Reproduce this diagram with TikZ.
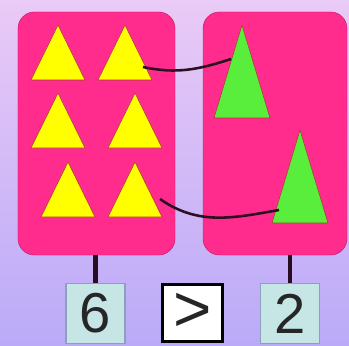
\documentclass[tikz,border=0pt]{standalone}
\usepackage{fontspec}
\setmainfont{Liberation Sans}
\usetikzlibrary{positioning}

\definecolor{bgtop}{RGB}{234,202,246}
\definecolor{bgbot}{RGB}{186,170,248}
\definecolor{panelfill}{RGB}{255,44,142}
\definecolor{paneldraw}{RGB}{196,24,104}
\definecolor{triyellow}{RGB}{255,255,0}
\definecolor{trigreen}{RGB}{90,238,60}
\definecolor{triedge}{RGB}{170,60,50}
\definecolor{boxfill}{RGB}{198,230,230}
\definecolor{boxdraw}{RGB}{140,160,185}
\definecolor{linkcol}{RGB}{45,15,35}

\begin{document}
\begin{tikzpicture}[
      x=0.03cm, y=-0.03cm,
      panel/.style={draw=paneldraw, fill=panelfill, rounded corners=14pt,
        minimum height=7.29cm, inner sep=0pt},
      ytri/.style={draw=triedge, fill=triyellow, line width=0.5pt, line join=round},
      gtri/.style={draw=triedge, fill=trigreen, line width=0.5pt, line join=round},
      numbox/.style={draw=boxdraw, fill=boxfill, line width=0.9pt, anchor=north,
        minimum width=1.77cm, minimum height=1.8cm, inner sep=0pt,
        text=black!85, font=\fontsize{48}{48}\selectfont},
      signbox/.style={numbox, draw=black, fill=white, line width=2.5pt,
        minimum width=1.8cm, minimum height=1.7cm, font=\fontsize{56}{56}\selectfont},
      stem/.style={line width=4.2pt, draw=linkcol!90!black},
      link/.style={line width=2.2pt, draw=linkcol},
    ]
    % background
    \shade[top color=bgtop, bottom color=bgbot] (0,0) rectangle (349,345);
    \useasboundingbox (0,0) rectangle (349,345);

    % two panels
    \node[panel, minimum width=4.71cm] (lpanel) at (96.5,133.5) {};
    \node[panel, minimum width=4.32cm] (rpanel) at (275,133.5) {};

    % yellow triangles (apex x, apex y)
    \foreach \ax/\ay in {58/25, 125/25, 58/93, 135/93, 68/162, 135/162}
      \draw[ytri] (\ax,\ay) -- ++(27,55) -- ++(-54,0) -- cycle;

    % green triangles
    \foreach \ax/\ay in {242/25, 300/130}
      \draw[gtri] (\ax,\ay) -- ++(28,93) -- ++(-56,0) -- cycle;

    % connector ends
    \coordinate (ytop) at (143,67);
    \coordinate (gtop) at (231,59);
    \coordinate (ybot) at (160,199);
    \coordinate (gbot) at (279,210);

    \draw[link] (ytop) to[out=-12, in=198] (gtop);
    \draw[link] (ybot) to[out=-35, in=190] (gbot);

    % count boxes
    \node[numbox] (left) at (95.5,283) {6};
    \node[signbox] (sign) at (192.5,283) {>};
    \node[numbox] (right) at (290,283) {2};

    \draw[stem] (left.north |- lpanel.south) -- (left.north);
    \draw[stem] (right.north |- rpanel.south) -- (right.north);
  \end{tikzpicture}
\end{document}
